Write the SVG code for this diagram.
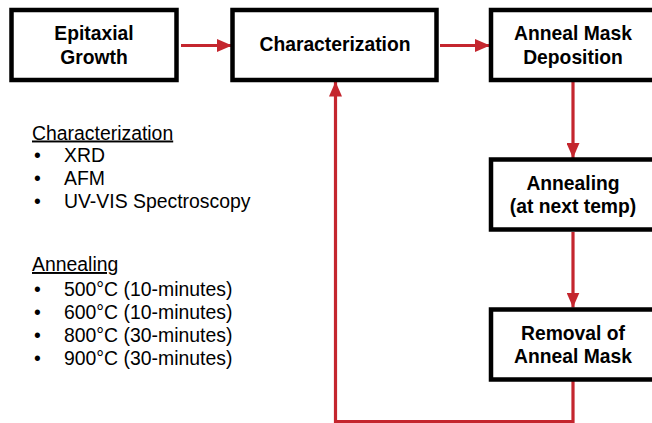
<svg xmlns="http://www.w3.org/2000/svg" width="652" height="423" viewBox="0 0 652 423">
<defs>
<style>
.box{fill:#fff;stroke:#000;stroke-width:4.5}
.bt{font-family:"Liberation Sans",Arial,Helvetica,sans-serif;font-weight:bold;font-size:19.3px;fill:#000;text-anchor:middle}
.lt{font-family:"Liberation Sans",Arial,Helvetica,sans-serif;font-size:19.4px;fill:#000}
.con{fill:none;stroke:#c4262e;stroke-width:3.2}
</style>
<marker id="ah" markerWidth="15" markerHeight="13" refX="15" refY="6.5" orient="auto" markerUnits="userSpaceOnUse">
<path d="M0,0 L15,6.5 L0,13 Z" fill="#c4262e"/>
</marker>
</defs>
<rect width="652" height="423" fill="#fff"/>
<g id="connectors">
<line class="con" x1="181" y1="45.5" x2="232" y2="45.5" marker-end="url(#ah)"/>
<line class="con" x1="440" y1="45.5" x2="490" y2="45.5" marker-end="url(#ah)"/>
<line class="con" x1="573" y1="82" x2="573" y2="158" marker-end="url(#ah)"/>
<line class="con" x1="573" y1="232" x2="573" y2="307.5" marker-end="url(#ah)"/>
<polyline class="con" points="573,381 573,421.5 335.5,421.5 335.5,81.5" marker-end="url(#ah)"/>
</g>
<g id="epitaxial-growth">
<rect class="box" x="11.5" y="10" width="165" height="70"/>
<text class="bt" x="94" y="40">Epitaxial</text>
<text class="bt" x="94" y="63.5">Growth</text>
</g>
<g id="characterization">
<rect class="box" x="232.5" y="10" width="204" height="70"/>
<text class="bt" x="335" y="51">Characterization</text>
</g>
<g id="anneal-mask-deposition">
<rect class="box" x="491" y="10" width="165" height="70"/>
<text class="bt" x="573" y="40">Anneal Mask</text>
<text class="bt" x="573" y="63.5">Deposition</text>
</g>
<g id="annealing">
<rect class="box" x="491" y="159.5" width="165" height="70"/>
<text class="bt" x="573" y="190">Annealing</text>
<text class="bt" x="573" y="213">(at next temp)</text>
</g>
<g id="removal-of-anneal-mask">
<rect class="box" x="491" y="309.5" width="165" height="70"/>
<text class="bt" x="573" y="339.5">Removal of</text>
<text class="bt" x="573" y="362.5">Anneal Mask</text>
</g>
<g id="notes">
<text class="lt" x="32" y="139.5" text-decoration="underline">Characterization</text>
<text class="lt" x="34" y="162">•</text><text class="lt" x="64" y="162">XRD</text>
<text class="lt" x="34" y="185">•</text><text class="lt" x="64" y="185">AFM</text>
<text class="lt" x="34" y="207.5">•</text><text class="lt" x="64" y="207.5">UV-VIS Spectroscopy</text>
<text class="lt" x="32" y="271" text-decoration="underline">Annealing</text>
<text class="lt" x="34" y="295.5">•</text><text class="lt" x="64" y="295.5">500°C (10-minutes)</text>
<text class="lt" x="34" y="318.5">•</text><text class="lt" x="64" y="318.5">600°C (10-minutes)</text>
<text class="lt" x="34" y="341.5">•</text><text class="lt" x="64" y="341.5">800°C (30-minutes)</text>
<text class="lt" x="34" y="364.5">•</text><text class="lt" x="64" y="364.5">900°C (30-minutes)</text>
</g>
</svg>
